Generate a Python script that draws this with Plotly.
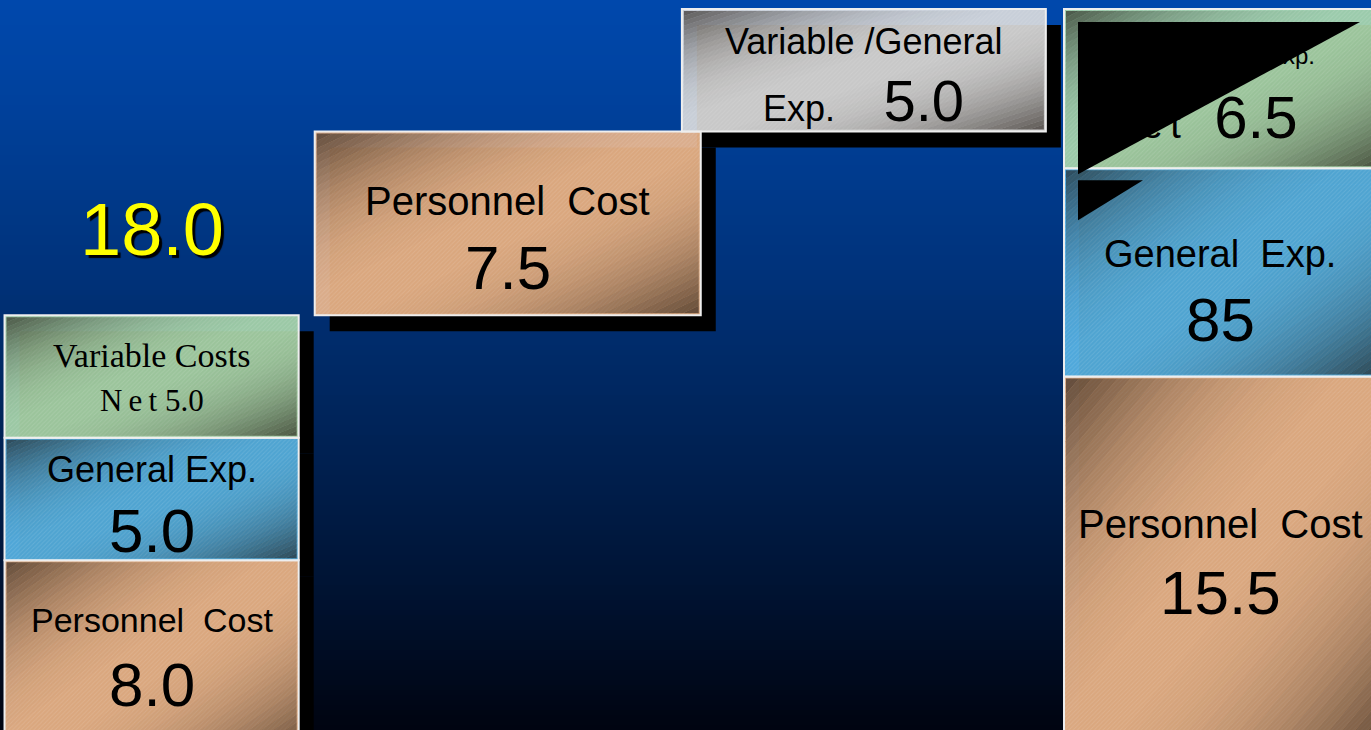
import plotly.graph_objects as go

# ---------------- data ----------------
columns = ["Current", "Personnel increase", "Variable/General increase", "Projected"]

start_kinds = ["personnel", "general", "variable"]
start_labels = ["Personnel\u00a0\u00a0Cost", "General\u00a0Exp.", "Variable Costs"]
start_values = [8.0, 5.0, 5.0]
start_value_text = ["8.0", "5.0", "N\u2009e\u2009t 5.0"]

step_kinds = ["personnel", "vargen"]
step_labels = ["Personnel\u00a0\u00a0Cost", "Variable\u00a0/General"]
step_values = [7.5, 5.0]
step_value_text = ["7.5", "<span style='font-size:36px'>Exp.</span>\u00a0\u00a0\u00a05.0"]

end_kinds = ["personnel", "general", "variable"]
end_labels = ["Personnel\u00a0\u00a0Cost", "General\u00a0\u00a0Exp.", "Variable/General\u00a0Exp."]
end_values = [15.5, 8.5, 6.5]
end_value_text = ["15.5", "85", "<span style='font-size:38px'>N\u2009e\u2009t</span>\u00a0\u00a06.5"]

start_total_text = "18.0"

# ---------------- style ----------------
W, H = 1371, 730
X_RANGE = [-0.4257, 3.424]
Y_RANGE = [1.07, 30.87]
PX_X = W / (X_RANGE[1] - X_RANGE[0])
PX_Y = H / (Y_RANGE[1] - Y_RANGE[0])

COL_WIDTH = [0.826, 1.084, 1.022, 0.876]
FILL = {
    "personnel": (242, 186, 140),
    "general": (88, 182, 232),
    "variable": (172, 218, 172),
    "vargen": (222, 222, 222),
}
KIND_NAME = {
    "personnel": "Personnel Cost",
    "general": "General Exp.",
    "variable": "Variable Costs Net",
    "vargen": "Variable /General Exp.",
}
SANS = "Liberation Sans, Arial, sans-serif"
SERIF = "Liberation Serif, Times New Roman, serif"
# per box: label size, value size, family, label shift, value shift (px)
BOX_STYLE = [
    (34, 62, SANS, 38, -26),
    (36, 62, SANS, 30, -31),
    (34, 31, SERIF, 21, -24),
    (40, 62, SANS, 22, -44),
    (36, 58, SANS, 29, -30),
    (40, 62, SANS, 42, -26),
    (38, 62, SANS, 18, -47),
    (24, 60, SANS, 31, -34),
]
SHADOW_DX, SHADOW_DY = 15, 16

# ---------------- waterfall boxes ----------------
boxes = []
level = 0.0
for kind, lab, v, t in zip(start_kinds, start_labels, start_values, start_value_text):
    boxes.append(dict(col=0, kind=kind, label=lab, base=level, value=v, text=t))
    level += v
start_total = level
for k, (kind, lab, v, t) in enumerate(zip(step_kinds, step_labels, step_values, step_value_text)):
    boxes.append(dict(col=1 + k, kind=kind, label=lab, base=level, value=v, text=t))
    level += v
level = 0.0
for kind, lab, v, t in zip(end_kinds, end_labels, end_values, end_value_text):
    boxes.append(dict(col=len(columns) - 1, kind=kind, label=lab, base=level, value=v, text=t))
    level += v

xpos = {name: i for i, name in enumerate(columns)}

fig = go.Figure()

# bars, one trace per cost type
for kind in ["personnel", "general", "variable", "vargen"]:
    sel = [b for b in boxes if b["kind"] == kind]
    r, g, bl = FILL[kind]
    fig.add_trace(go.Bar(
        name=KIND_NAME[kind],
        x=[xpos[columns[b["col"]]] for b in sel],
        y=[b["value"] for b in sel],
        base=[b["base"] for b in sel],
        width=[COL_WIDTH[b["col"]] for b in sel],
        marker=dict(
            color=f"rgba({r},{g},{bl},0.9)",
            line=dict(color="rgba(238,238,238,1)", width=2),
            pattern=dict(shape="/", fillmode="overlay", fgcolor="white",
                         fgopacity=0.12, size=3, solidity=0.3),
        ),
        hoverinfo="skip",
        showlegend=False,
    ))

shapes = []

# background: vertical blue-to-black gradient
N_BG = 146
for k in range(N_BG):
    f = (k + 0.5) / N_BG
    gmix = f ** 1.15
    gc = round(72 + (4 - 72) * gmix)
    bc = round(172 + (16 - 172) * gmix)
    shapes.append(dict(type="rect", xref="paper", yref="paper", x0=0, x1=1,
                       y0=1 - (k + 1) / N_BG - 0.002, y1=1 - k / N_BG,
                       fillcolor=f"rgb(0,{gc},{bc})", line=dict(width=0), layer="below"))

# drop shadows behind each box
dxu = SHADOW_DX / PX_X
dyu = SHADOW_DY / PX_Y
for b in boxes:
    w = COL_WIDTH[b["col"]]
    shapes.append(dict(type="rect", xref="x", yref="y",
                       x0=b["col"] - w / 2 + dxu, x1=b["col"] + w / 2 + dxu,
                       y0=b["base"] - dyu, y1=b["base"] + b["value"] - dyu,
                       fillcolor="black", line=dict(width=0), layer="below"))


# diagonal shading: dark toward top-left and bottom-right corners
def clip(poly, a, c_b, c):
    out = []
    n = len(poly)
    for i in range(n):
        p, q = poly[i], poly[(i + 1) % n]
        fp = a * p[0] + c_b * p[1] + c
        fq = a * q[0] + c_b * q[1] + c
        if fp >= 0:
            out.append(p)
        if (fp >= 0) != (fq >= 0):
            s = fp / (fp - fq)
            out.append((p[0] + s * (q[0] - p[0]), p[1] + s * (q[1] - p[1])))
    return out


N_GRAD = 48
inset_x = 2 / PX_X
inset_y = 2 / PX_Y
for b in boxes:
    w = COL_WIDTH[b["col"]]
    x0 = b["col"] - w / 2 + inset_x
    x1 = b["col"] + w / 2 - inset_x
    y0 = b["base"] + inset_y
    y1 = b["base"] + b["value"] - inset_y
    for k in range(N_GRAD):
        lo, hi = 2 * k / N_GRAD, 2 * (k + 1) / N_GRAD
        poly = [(0, 0), (1, 0), (1, 1), (0, 1)]
        poly = clip(poly, 1, 1, -lo)
        poly = clip(poly, -1, -1, hi)
        if len(poly) < 3:
            continue
        tm = (k + 0.5) / N_GRAD
        alpha = 0.62 * abs(2 * tm - 1) ** 2.2
        if alpha < 0.008:
            continue
        pts = [(x0 + u * (x1 - x0), y1 - v * (y1 - y0)) for u, v in poly]
        path = "M " + " L ".join(f"{px:.5f},{py:.5f}" for px, py in pts) + " Z"
        shapes.append(dict(type="path", xref="x", yref="y", path=path,
                           fillcolor=f"rgba(24,16,10,{alpha:.3f})",
                           line=dict(width=0), layer="above"))

# black wedge falling across the top of the last column
top_box = boxes[-1]
w = COL_WIDTH[top_box["col"]]
sx0 = top_box["col"] - w / 2 + 14 / PX_X
ytop = top_box["base"] + top_box["value"] - 13 / PX_Y
ybot = top_box["base"] - 6 / PX_Y
sx1 = top_box["col"] + w / 2 - 16 / PX_X
shapes.append(dict(type="path", xref="x", yref="y",
                   path=f"M {sx0},{ytop} L {sx1},{ytop} L {sx0},{ybot} Z",
                   fillcolor="black", line=dict(width=0), layer="above"))
yb2 = top_box["base"] - 12 / PX_Y
shapes.append(dict(type="path", xref="x", yref="y",
                   path=f"M {sx0},{yb2} L {sx0 + 65 / PX_X},{yb2} L {sx0},{yb2 - 40 / PX_Y} Z",
                   fillcolor="black", line=dict(width=0), layer="above"))

# labels
annotations = []
for i, b in enumerate(boxes):
    lsize, vsize, fam, lshift, vshift = BOX_STYLE[i]
    yc = b["base"] + b["value"] / 2
    if i == len(boxes) - 1:
        # text of the top segment sits beneath the black wedge
        fig.add_trace(go.Scatter(
            x=[b["col"] + 95 / PX_X], y=[yc + lshift / PX_Y], mode="text",
            text=[b["label"]], textposition="middle left",
            textfont=dict(family=fam, size=lsize, color="black"),
            hoverinfo="skip", showlegend=False))
        fig.add_trace(go.Scatter(
            x=[b["col"] - 18 / PX_X], y=[yc + vshift / PX_Y], mode="text",
            text=[b["text"]], textposition="middle center",
            textfont=dict(family=fam, size=vsize, color="black"),
            hoverinfo="skip", showlegend=False))
        continue
    annotations.append(dict(x=b["col"], y=yc, xref="x", yref="y", text=b["label"],
                            showarrow=False, yshift=lshift, yanchor="middle",
                            font=dict(family=fam, size=lsize, color="black")))
    annotations.append(dict(x=b["col"], y=yc, xref="x", yref="y", text=b["text"],
                            showarrow=False, yshift=vshift, yanchor="middle",
                            font=dict(family=fam, size=vsize, color="black")))

annotations.append(dict(x=0, y=start_total, xref="x", yref="y", text=start_total_text,
                        showarrow=False, yshift=86, yanchor="middle",
                        font=dict(family=SANS, size=74, color="#ffff00",
                                  shadow="3px 3px 1px #000000")))

fig.update_layout(
    width=W, height=H,
    margin=dict(l=0, r=0, t=0, b=0),
    paper_bgcolor="rgb(0,4,16)",
    plot_bgcolor="rgba(0,0,0,0)",
    barmode="overlay",
    showlegend=False,
    shapes=shapes,
    annotations=annotations,
    xaxis=dict(range=X_RANGE, visible=False, fixedrange=True),
    yaxis=dict(range=Y_RANGE, visible=False, fixedrange=True),
)

fig.write_html("out.html", config={"displayModeBar": False})
